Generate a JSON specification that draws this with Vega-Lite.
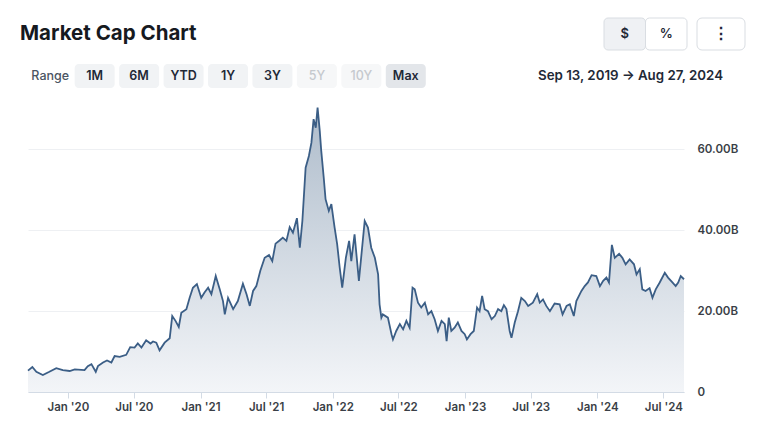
{
  "$schema": "https://vega.github.io/schema/vega-lite/v6.json",
  "background": "#ffffff",
  "padding": {"top": 17, "left": 20, "right": 10, "bottom": 10},
  "spacing": 13,
  "config": {"view": {"stroke": null}, "font": "Inter"},
  "datasets": {
    "title": [{"label": "Market Cap Chart"}],
    "seg": [{"label": "$", "sel": "yes"}, {"label": "%", "sel": "no"}],
    "menu": [{"label": "⋮"}],
    "daterange": [{"label": "Sep 13, 2019 → Aug 27, 2024"}],
    "ranges": [
      {"label": "Range", "state": "label"},
      {"label": "1M", "state": "normal"},
      {"label": "6M", "state": "normal"},
      {"label": "YTD", "state": "normal"},
      {"label": "1Y", "state": "normal"},
      {"label": "3Y", "state": "normal"},
      {"label": "5Y", "state": "disabled"},
      {"label": "10Y", "state": "disabled"},
      {"label": "Max", "state": "active"}
    ],
    "mc": [
      {"date": "2019-09-13", "cap": 5.3}, {"date": "2019-09-25", "cap": 6.2}, {"date": "2019-10-06", "cap": 5.0},
      {"date": "2019-10-24", "cap": 4.2}, {"date": "2019-11-11", "cap": 5.0}, {"date": "2019-11-30", "cap": 5.9},
      {"date": "2019-12-18", "cap": 5.4}, {"date": "2020-01-06", "cap": 5.2}, {"date": "2020-01-20", "cap": 5.6},
      {"date": "2020-02-16", "cap": 5.4}, {"date": "2020-02-25", "cap": 6.4}, {"date": "2020-03-06", "cap": 6.9},
      {"date": "2020-03-18", "cap": 5.0}, {"date": "2020-03-24", "cap": 6.4}, {"date": "2020-04-07", "cap": 7.3},
      {"date": "2020-04-18", "cap": 7.8}, {"date": "2020-04-30", "cap": 7.3}, {"date": "2020-05-09", "cap": 8.9},
      {"date": "2020-05-23", "cap": 8.7}, {"date": "2020-06-10", "cap": 9.2}, {"date": "2020-06-21", "cap": 11.1},
      {"date": "2020-07-03", "cap": 11.0}, {"date": "2020-07-12", "cap": 12.0}, {"date": "2020-07-22", "cap": 11.0},
      {"date": "2020-08-04", "cap": 12.8}, {"date": "2020-08-16", "cap": 12.0}, {"date": "2020-08-23", "cap": 12.5},
      {"date": "2020-09-01", "cap": 12.2}, {"date": "2020-09-10", "cap": 10.3}, {"date": "2020-09-24", "cap": 12.2},
      {"date": "2020-10-08", "cap": 13.3}, {"date": "2020-10-15", "cap": 18.8}, {"date": "2020-10-24", "cap": 17.6},
      {"date": "2020-11-02", "cap": 16.1}, {"date": "2020-11-09", "cap": 19.6}, {"date": "2020-11-23", "cap": 20.5},
      {"date": "2020-12-02", "cap": 23.3}, {"date": "2020-12-11", "cap": 25.8}, {"date": "2020-12-22", "cap": 26.7},
      {"date": "2021-01-03", "cap": 23.3}, {"date": "2021-01-12", "cap": 24.6}, {"date": "2021-01-22", "cap": 25.8},
      {"date": "2021-01-31", "cap": 24.2}, {"date": "2021-02-12", "cap": 28.7}, {"date": "2021-02-23", "cap": 25.4},
      {"date": "2021-03-04", "cap": 22.5}, {"date": "2021-03-09", "cap": 19.2}, {"date": "2021-03-18", "cap": 23.3},
      {"date": "2021-04-01", "cap": 20.5}, {"date": "2021-04-14", "cap": 22.5}, {"date": "2021-04-28", "cap": 26.8},
      {"date": "2021-05-08", "cap": 24.2}, {"date": "2021-05-17", "cap": 21.3}, {"date": "2021-05-26", "cap": 25.0},
      {"date": "2021-06-04", "cap": 26.2}, {"date": "2021-06-15", "cap": 30.0}, {"date": "2021-06-27", "cap": 33.2},
      {"date": "2021-07-09", "cap": 33.9}, {"date": "2021-07-18", "cap": 32.4}, {"date": "2021-07-27", "cap": 36.7},
      {"date": "2021-08-07", "cap": 37.5}, {"date": "2021-08-16", "cap": 38.2}, {"date": "2021-08-26", "cap": 37.4},
      {"date": "2021-09-04", "cap": 40.8}, {"date": "2021-09-13", "cap": 39.4}, {"date": "2021-09-24", "cap": 43.0},
      {"date": "2021-10-02", "cap": 35.7}, {"date": "2021-10-09", "cap": 42.3}, {"date": "2021-10-18", "cap": 55.5},
      {"date": "2021-10-27", "cap": 58.4}, {"date": "2021-11-03", "cap": 61.7}, {"date": "2021-11-09", "cap": 67.5},
      {"date": "2021-11-15", "cap": 65.4}, {"date": "2021-11-20", "cap": 70.4}, {"date": "2021-11-26", "cap": 64.6},
      {"date": "2021-11-30", "cap": 59.8}, {"date": "2021-12-07", "cap": 53.0}, {"date": "2021-12-12", "cap": 47.7},
      {"date": "2021-12-21", "cap": 44.8}, {"date": "2021-12-28", "cap": 46.5}, {"date": "2022-01-06", "cap": 40.7},
      {"date": "2022-01-13", "cap": 36.6}, {"date": "2022-01-20", "cap": 30.8}, {"date": "2022-01-27", "cap": 25.8},
      {"date": "2022-02-06", "cap": 33.2}, {"date": "2022-02-15", "cap": 37.4}, {"date": "2022-02-21", "cap": 32.4},
      {"date": "2022-03-02", "cap": 39.0}, {"date": "2022-03-14", "cap": 27.5}, {"date": "2022-03-30", "cap": 42.3},
      {"date": "2022-04-08", "cap": 40.7}, {"date": "2022-04-17", "cap": 35.7}, {"date": "2022-04-27", "cap": 33.2},
      {"date": "2022-05-06", "cap": 29.1}, {"date": "2022-05-10", "cap": 21.7}, {"date": "2022-05-15", "cap": 18.4},
      {"date": "2022-05-19", "cap": 19.2}, {"date": "2022-06-02", "cap": 18.4}, {"date": "2022-06-12", "cap": 14.3},
      {"date": "2022-06-16", "cap": 13.0}, {"date": "2022-06-25", "cap": 15.1}, {"date": "2022-07-05", "cap": 16.8},
      {"date": "2022-07-14", "cap": 15.5}, {"date": "2022-07-23", "cap": 17.6}, {"date": "2022-08-01", "cap": 15.9},
      {"date": "2022-08-09", "cap": 25.8}, {"date": "2022-08-15", "cap": 25.4}, {"date": "2022-08-24", "cap": 22.1},
      {"date": "2022-09-02", "cap": 20.9}, {"date": "2022-09-12", "cap": 22.1}, {"date": "2022-09-21", "cap": 19.2},
      {"date": "2022-09-30", "cap": 20.0}, {"date": "2022-10-09", "cap": 18.0}, {"date": "2022-10-18", "cap": 15.1},
      {"date": "2022-10-28", "cap": 17.6}, {"date": "2022-11-06", "cap": 16.8}, {"date": "2022-11-11", "cap": 12.6},
      {"date": "2022-11-17", "cap": 18.4}, {"date": "2022-11-24", "cap": 15.1}, {"date": "2022-12-03", "cap": 15.9},
      {"date": "2022-12-12", "cap": 17.2}, {"date": "2022-12-22", "cap": 15.1}, {"date": "2022-12-31", "cap": 14.3},
      {"date": "2023-01-06", "cap": 13.0}, {"date": "2023-01-16", "cap": 14.3}, {"date": "2023-01-25", "cap": 15.1},
      {"date": "2023-02-03", "cap": 20.9}, {"date": "2023-02-10", "cap": 20.0}, {"date": "2023-02-17", "cap": 23.8},
      {"date": "2023-02-24", "cap": 20.5}, {"date": "2023-03-05", "cap": 20.0}, {"date": "2023-03-15", "cap": 18.0},
      {"date": "2023-03-24", "cap": 18.8}, {"date": "2023-04-02", "cap": 20.5}, {"date": "2023-04-11", "cap": 20.0},
      {"date": "2023-04-18", "cap": 21.5}, {"date": "2023-04-25", "cap": 20.5}, {"date": "2023-05-04", "cap": 15.1},
      {"date": "2023-05-09", "cap": 13.4}, {"date": "2023-05-18", "cap": 17.2}, {"date": "2023-05-27", "cap": 20.0},
      {"date": "2023-06-05", "cap": 23.3}, {"date": "2023-06-15", "cap": 22.5}, {"date": "2023-06-24", "cap": 21.3},
      {"date": "2023-07-07", "cap": 22.1}, {"date": "2023-07-19", "cap": 24.2}, {"date": "2023-07-26", "cap": 22.1},
      {"date": "2023-08-04", "cap": 22.9}, {"date": "2023-08-13", "cap": 21.3}, {"date": "2023-08-23", "cap": 20.0},
      {"date": "2023-09-05", "cap": 21.9}, {"date": "2023-09-19", "cap": 21.7}, {"date": "2023-09-27", "cap": 19.2},
      {"date": "2023-10-08", "cap": 21.3}, {"date": "2023-10-17", "cap": 21.7}, {"date": "2023-10-28", "cap": 18.8},
      {"date": "2023-11-04", "cap": 22.5}, {"date": "2023-11-18", "cap": 25.0}, {"date": "2023-11-27", "cap": 26.2},
      {"date": "2023-12-06", "cap": 27.1}, {"date": "2023-12-16", "cap": 28.9}, {"date": "2023-12-29", "cap": 28.7},
      {"date": "2024-01-08", "cap": 26.2}, {"date": "2024-01-17", "cap": 27.5}, {"date": "2024-01-26", "cap": 28.3},
      {"date": "2024-02-02", "cap": 27.1}, {"date": "2024-02-10", "cap": 36.4}, {"date": "2024-02-18", "cap": 33.2},
      {"date": "2024-03-01", "cap": 34.2}, {"date": "2024-03-10", "cap": 33.2}, {"date": "2024-03-19", "cap": 31.6},
      {"date": "2024-03-30", "cap": 32.8}, {"date": "2024-04-11", "cap": 31.6}, {"date": "2024-04-18", "cap": 29.1},
      {"date": "2024-04-27", "cap": 30.4}, {"date": "2024-05-04", "cap": 25.4}, {"date": "2024-05-13", "cap": 25.0},
      {"date": "2024-05-24", "cap": 25.7}, {"date": "2024-06-01", "cap": 23.3}, {"date": "2024-06-10", "cap": 25.4},
      {"date": "2024-06-21", "cap": 27.1}, {"date": "2024-07-05", "cap": 29.5}, {"date": "2024-07-14", "cap": 28.3},
      {"date": "2024-07-26", "cap": 27.1}, {"date": "2024-08-04", "cap": 26.2}, {"date": "2024-08-11", "cap": 27.1},
      {"date": "2024-08-18", "cap": 28.7}, {"date": "2024-08-27", "cap": 27.9}
    ]
  },
  "vconcat": [
    {
      "spacing": 8,
      "hconcat": [
        {
          "width": 567, "height": 32,
          "data": {"name": "title"},
          "mark": {"type": "text", "align": "left", "baseline": "middle", "fontSize": 20.5, "fontWeight": 700, "color": "#16191f", "dx": -8},
          "encoding": {
            "x": {"field": "label", "type": "nominal", "axis": null, "bandPosition": 0, "scale": {"type": "band", "paddingInner": 0, "paddingOuter": 0}},
            "text": {"field": "label"}
          }
        },
        {
          "width": 83, "height": 32,
          "data": {"name": "seg"},
          "encoding": {
            "x": {"field": "label", "type": "nominal", "axis": null, "sort": null, "scale": {"type": "band", "paddingInner": 0, "paddingOuter": 0}}
          },
          "layer": [
            {
              "mark": {"type": "bar", "stroke": "#d9dde2", "strokeWidth": 1, "cornerRadius": 4},
              "encoding": {"color": {"field": "sel", "type": "nominal", "legend": null, "scale": {"domain": ["yes", "no"], "range": ["#eff1f4", "#ffffff"]}}}
            },
            {
              "mark": {"type": "text", "fontSize": 13, "fontWeight": 600, "color": "#1f2937", "baseline": "middle"},
              "encoding": {"text": {"field": "label"}}
            }
          ]
        },
        {
          "width": 48, "height": 32,
          "data": {"name": "menu"},
          "encoding": {
            "x": {"field": "label", "type": "nominal", "axis": null, "scale": {"type": "band", "paddingInner": 0, "paddingOuter": 0}}
          },
          "layer": [
            {"mark": {"type": "bar", "fill": "#ffffff", "stroke": "#d9dde2", "strokeWidth": 1, "cornerRadius": 5}},
            {"mark": {"type": "text", "fontSize": 16, "fontWeight": 700, "color": "#1f2937", "baseline": "middle"}, "encoding": {"text": {"field": "label"}}}
          ]
        }
      ]
    },
    {
      "spacing": 10,
      "hconcat": [
        {
          "width": 400, "height": 24,
          "data": {"name": "ranges"},
          "encoding": {
            "x": {"field": "label", "type": "nominal", "axis": null, "sort": null,
                  "scale": {"type": "band", "domain": ["Range", "1M", "6M", "YTD", "1Y", "3Y", "5Y", "10Y", "Max"], "paddingInner": 0.1, "paddingOuter": 0.05}}
          },
          "layer": [
            {"transform": [{"filter": "datum.state == 'normal'"}], "mark": {"type": "bar", "fill": "#f1f3f5", "cornerRadius": 4}},
            {"transform": [{"filter": "datum.state == 'disabled'"}], "mark": {"type": "bar", "fill": "#f6f7f8", "cornerRadius": 4}},
            {"transform": [{"filter": "datum.state == 'active'"}], "mark": {"type": "bar", "fill": "#e3e6ea", "cornerRadius": 4}},
            {"transform": [{"filter": "datum.state == 'label'"}], "mark": {"type": "text", "fontSize": 12.5, "fontWeight": 500, "color": "#4b5563", "baseline": "middle"}, "encoding": {"text": {"field": "label"}}},
            {"transform": [{"filter": "datum.state == 'normal' || datum.state == 'active'"}], "mark": {"type": "text", "fontSize": 12.5, "fontWeight": 600, "color": "#1f2937", "baseline": "middle"}, "encoding": {"text": {"field": "label"}}},
            {"transform": [{"filter": "datum.state == 'disabled'"}], "mark": {"type": "text", "fontSize": 12.5, "fontWeight": 500, "color": "#c5c9ce", "baseline": "middle"}, "encoding": {"text": {"field": "label"}}}
          ]
        },
        {
          "width": 285, "height": 24,
          "data": {"name": "daterange"},
          "mark": {"type": "text", "align": "right", "baseline": "middle", "fontSize": 13.3, "fontWeight": 600, "color": "#1f2937"},
          "encoding": {
            "x": {"field": "label", "type": "nominal", "axis": null, "bandPosition": 1, "scale": {"type": "band", "paddingInner": 0, "paddingOuter": 0}},
            "text": {"field": "label"}
          }
        }
      ]
    },
    {
      "width": 656, "height": 291,
      "data": {"name": "mc"},
      "encoding": {
        "x": {
          "field": "date", "type": "temporal",
          "scale": {"type": "utc", "domain": [{"year": 2019, "month": "sep", "date": 13, "utc": true}, {"year": 2024, "month": "aug", "date": 27, "utc": true}]},
          "axis": {
            "title": null, "grid": false,
            "labelExpr": "utcFormat(datum.value, \"%b '%y\")",
            "values": [
              {"year": 2020, "month": "jan", "date": 1, "utc": true}, {"year": 2020, "month": "jul", "date": 1, "utc": true},
              {"year": 2021, "month": "jan", "date": 1, "utc": true}, {"year": 2021, "month": "jul", "date": 1, "utc": true},
              {"year": 2022, "month": "jan", "date": 1, "utc": true}, {"year": 2022, "month": "jul", "date": 1, "utc": true},
              {"year": 2023, "month": "jan", "date": 1, "utc": true}, {"year": 2023, "month": "jul", "date": 1, "utc": true},
              {"year": 2024, "month": "jan", "date": 1, "utc": true}, {"year": 2024, "month": "jul", "date": 1, "utc": true}
            ],
            "domainColor": "#d3dbe5", "tickColor": "#d3dbe5", "tickSize": 6, "labelPadding": 3,
            "labelFontSize": 11.5, "labelFontWeight": 600, "labelColor": "#3a3f47", "labelOverlap": false, "labelFlush": false
          }
        },
        "y": {
          "field": "cap", "type": "quantitative",
          "scale": {"domain": [0, 72], "nice": false},
          "axis": {
            "orient": "right", "title": null, "values": [0, 20, 40, 60],
            "labelExpr": "datum.value == 0 ? '0' : format(datum.value, '.2f') + 'B'",
            "domain": false, "ticks": false, "grid": true, "gridColor": "#eef0f3",
            "labelPadding": 13, "labelFontSize": 11.5, "labelFontWeight": 600, "labelColor": "#3a3f47"
          }
        }
      },
      "layer": [
        {
          "mark": {
            "type": "area",
            "color": {"gradient": "linear", "x1": 1, "y1": 1, "x2": 1, "y2": 0,
                      "stops": [{"offset": 0, "color": "#f3f5f8"}, {"offset": 1, "color": "#aebccb"}]}
          }
        },
        {"mark": {"type": "line", "color": "#3b5e86", "strokeWidth": 1.8}}
      ]
    }
  ]
}
